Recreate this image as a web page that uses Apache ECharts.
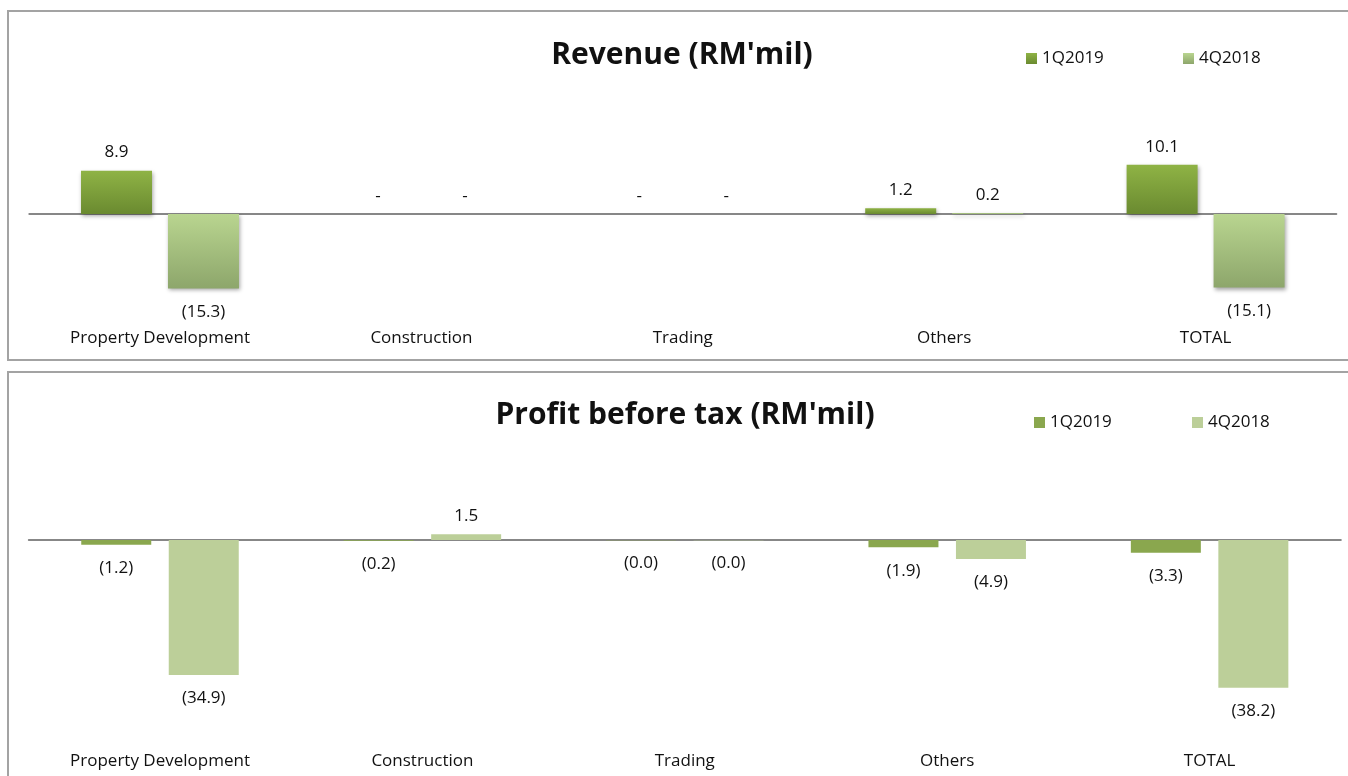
<!DOCTYPE html>
<html>
<head>
<meta charset="utf-8">
<script src="https://cdn.jsdelivr.net/npm/echarts@6/dist/echarts.min.js"></script>
<style>
  html, body { margin: 0; padding: 0; background: #fff; }
  #main { width: 1348px; height: 776px; }
</style>
</head>
<body>
<div id="main"></div>
<script>
var categories = ['Property Development', 'Construction', 'Trading', 'Others', 'TOTAL'];
var seriesNames = ['1Q2019', '4Q2018'];
// Revenue (RM'mil)
var revenue1Q2019 = [8.9, 0, 0, 1.2, 10.1];
var revenue4Q2018 = [-15.3, 0, 0, 0.2, -15.1];
// Profit before tax (RM'mil)
var pbt1Q2019 = [-1.2, -0.2, -0.04, -1.9, -3.3];
var pbt4Q2018 = [-34.9, 1.5, -0.04, -4.9, -38.2];

var FONT = '"Open Sans", "Noto Sans", sans-serif';

function fmt(p) {
  var v = p.value;
  if (v === 0) return '-';
  if (v < 0) return '(' + (-v).toFixed(1) + ')';
  return v.toFixed(1);
}

// label above positive bars, below negative ones
function withLabels(arr) {
  return arr.map(function (v) {
    return {
      value: v,
      label: { position: v < 0 ? 'bottom' : 'top', distance: v < 0 ? 15 : 9.5 }
    };
  });
}

var grad1 = new echarts.graphic.LinearGradient(0, 0, 0, 1, [
  { offset: 0, color: '#8fb345' }, { offset: 1, color: '#6a8a30' }
]);
var grad2 = new echarts.graphic.LinearGradient(0, 0, 0, 1, [
  { offset: 0, color: '#b9d590' }, { offset: 1, color: '#8da66b' }
]);
var shadow = { shadowColor: 'rgba(0,0,0,0.35)', shadowBlur: 4, shadowOffsetX: 1, shadowOffsetY: 2 };

var labelStyle = { show: true, color: '#111', fontSize: 17, fontFamily: FONT, formatter: fmt };

function xAxes(gridIndex, margin) {
  return [
    { // zero line
      type: 'category', gridIndex: gridIndex, data: categories,
      axisLine: { onZero: true, lineStyle: { color: '#878787', width: 2 } },
      axisTick: { show: false }, axisLabel: { show: false }
    },
    { // category names at the bottom
      type: 'category', gridIndex: gridIndex, data: categories, position: 'bottom',
      axisLine: { show: false, onZero: false }, axisTick: { show: false },
      axisLabel: { margin: margin, color: '#111', fontSize: 17, fontFamily: FONT, interval: 0 }
    }
  ];
}

var dom = document.getElementById('main');
var myChart = echarts.init(dom);
var option = {
  animation: false,
  title: [
    { text: "Revenue (RM'mil)", left: 682, top: 55, padding: 0, textAlign: 'center', textVerticalAlign: 'middle',
      textStyle: { fontSize: 30, fontWeight: 'bold', color: '#111', fontFamily: FONT } },
    { text: 'Profit before tax (RM\'mil)', left: 685, top: 415, padding: 0, textAlign: 'center', textVerticalAlign: 'middle',
      textStyle: { fontSize: 30, fontWeight: 'bold', color: '#111', fontFamily: FONT } }
  ],
  legend: [
    { data: ['1Q2019'], left: 1026, top: 50, padding: 0, itemWidth: 11, itemHeight: 11, icon: 'rect',
      textStyle: { fontSize: 17, color: '#111', fontFamily: FONT } },
    { data: ['4Q2018'], left: 1183, top: 50, padding: 0, itemWidth: 11, itemHeight: 11, icon: 'rect',
      textStyle: { fontSize: 17, color: '#111', fontFamily: FONT } },
    { data: ['1Q2019 '], left: 1034, top: 414, padding: 0, itemWidth: 11, itemHeight: 11, icon: 'rect',
      formatter: function (n) { return n.trim(); },
      textStyle: { fontSize: 17, color: '#111', fontFamily: FONT } },
    { data: ['4Q2018 '], left: 1192, top: 414, padding: 0, itemWidth: 11, itemHeight: 11, icon: 'rect',
      formatter: function (n) { return n.trim(); },
      textStyle: { fontSize: 17, color: '#111', fontFamily: FONT } }
  ],
  graphic: [
    { type: 'rect', shape: { x: 8, y: 11, width: 1350, height: 349 },
      style: { fill: 'none', stroke: '#a3a3a3', lineWidth: 2 }, silent: true },
    { type: 'rect', shape: { x: 8, y: 372, width: 1350, height: 420 },
      style: { fill: 'none', stroke: '#a3a3a3', lineWidth: 2 }, silent: true }
  ],
  grid: [
    { left: 29.3, width: 1307, top: 116.6, height: 204.5 },
    { left: 28.8, width: 1312, top: 501.3, height: 239.9 }
  ],
  xAxis: xAxes(0, 9).concat(xAxes(1, 11)),
  yAxis: [
    { type: 'value', gridIndex: 0, min: -22, max: 20, show: false, splitLine: { show: false } },
    { type: 'value', gridIndex: 1, min: -52, max: 10, show: false, splitLine: { show: false } }
  ],
  series: [
    { name: '1Q2019', type: 'bar', xAxisIndex: 0, yAxisIndex: 0, barWidth: 71, barGap: '22.5%',
      itemStyle: Object.assign({ color: grad1 }, shadow), label: labelStyle, data: withLabels(revenue1Q2019) },
    { name: '4Q2018', type: 'bar', xAxisIndex: 0, yAxisIndex: 0, barWidth: 71, barGap: '22.5%',
      itemStyle: Object.assign({ color: grad2 }, shadow), label: labelStyle, data: withLabels(revenue4Q2018) },
    { name: '1Q2019 ', type: 'bar', xAxisIndex: 2, yAxisIndex: 1, barWidth: 70, barGap: '25%',
      itemStyle: { color: '#8aa74e' }, label: labelStyle, data: withLabels(pbt1Q2019) },
    { name: '4Q2018 ', type: 'bar', xAxisIndex: 2, yAxisIndex: 1, barWidth: 70, barGap: '25%',
      itemStyle: { color: '#bccf99' }, label: labelStyle, data: withLabels(pbt4Q2018) }
  ]
};
myChart.setOption(option);
</script>
</body>
</html>
